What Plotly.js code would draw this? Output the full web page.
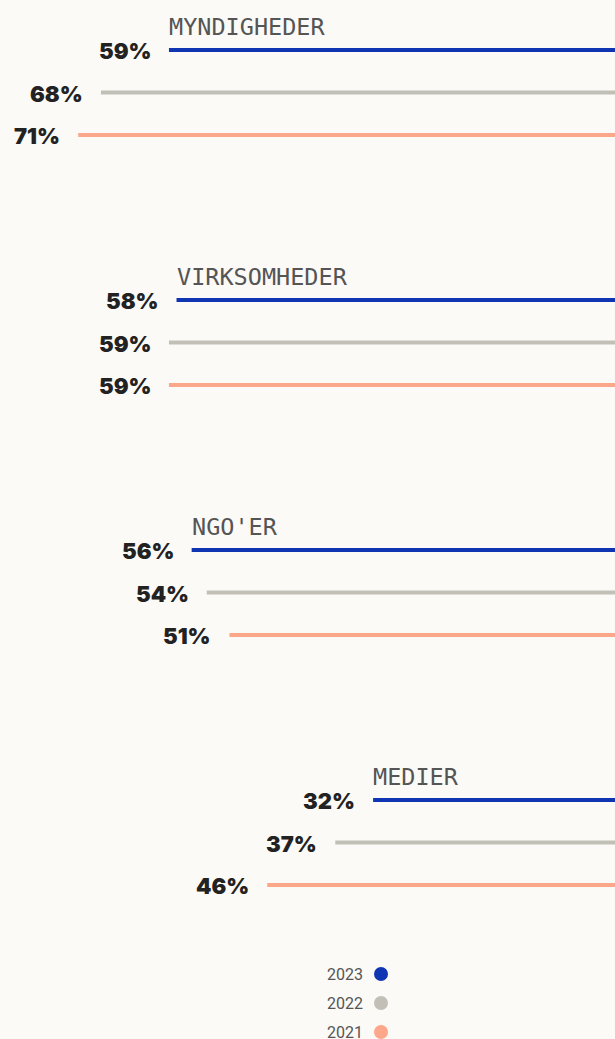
<!DOCTYPE html>
<html>
<head>
<meta charset="utf-8">
<script src="https://cdn.plot.ly/plotly-3.0.1.min.js"></script>
<style>
  html, body { margin: 0; padding: 0; background: #fcfaf6; }
  #chart { width: 615px; height: 1039px; }
</style>
</head>
<body>
<div id="chart"></div>
<script>
// ---- data ----
const categories = ["MYNDIGHEDER", "VIRKSOMHEDER", "NGO'ER", "MEDIER"];
const years = ["2023", "2022", "2021"];
const values2023 = [59, 58, 56, 32];
const values2022 = [68, 59, 54, 37];
const values2021 = [71, 59, 51, 46];
const colors = ["#0f35b2", "#c2bfb7", "#fca68a"];

// ---- layout helpers ----
const seriesValues = [values2023, values2022, values2021];
const rowStep = 0.17;           // spacing between years inside a group (group spacing = 1)
const xMax = 615 / 7.56;        // scale so 1 % = 7.56 px

const traces = [];
const annotations = [];

seriesValues.forEach((vals, s) => {
  const xs = [], ys = [];
  vals.forEach((v, g) => {
    const y = g + s * rowStep;
    xs.push(v, 0, null);
    ys.push(y, y, null);
    annotations.push({
      x: v, y: y, xref: 'x', yref: 'y',
      text: v + '%', showarrow: false,
      xanchor: 'right', yanchor: 'middle',
      xshift: -16, yshift: -1,
      font: { family: 'Inter, "Liberation Sans", sans-serif', size: 22, weight: 900, color: '#222222' }
    });
  });
  traces.push({
    type: 'scatter', mode: 'lines', x: xs, y: ys,
    line: { color: colors[s], width: 4 },
    hoverinfo: 'skip', showlegend: false, name: years[s]
  });
});

categories.forEach((c, g) => {
  annotations.push({
    x: values2023[g], y: g, xref: 'x', yref: 'y',
    text: c, showarrow: false,
    xanchor: 'left', yanchor: 'middle',
    xshift: -2, yshift: 23,
    font: { family: '"DejaVu Sans Mono", "Liberation Mono", monospace', size: 23.5, color: '#555555' }
  });
});

// legend (text left, dot right)
const shapes = [];
years.forEach((yr, i) => {
  const py = 974 + i * 29;
  const yPaper = 1 - py / 1039;
  annotations.push({
    x: 365 / 615, y: yPaper, xref: 'paper', yref: 'paper',
    text: yr, showarrow: false, xanchor: 'right', yanchor: 'middle',
    font: { family: 'Roboto, sans-serif', size: 16, weight: 400, color: '#555555' }
  });
  shapes.push({
    type: 'circle', xref: 'paper', yref: 'paper',
    xsizemode: 'pixel', ysizemode: 'pixel',
    xanchor: 381 / 615, yanchor: yPaper,
    x0: -7, x1: 7, y0: -7, y1: 7,
    fillcolor: colors[i], line: { width: 0 }
  });
});

const layout = {
  width: 615, height: 1039,
  margin: { l: 0, r: 0, t: 0, b: 0 },
  paper_bgcolor: '#fcfaf6', plot_bgcolor: '#fcfaf6',
  showlegend: false,
  xaxis: { range: [xMax, 0], visible: false, fixedrange: true },
  yaxis: { range: [(1039 - 50) / 250, -50 / 250], visible: false, fixedrange: true },
  annotations: annotations,
  shapes: shapes
};

Plotly.newPlot('chart', traces, layout, { displayModeBar: false, staticPlot: true });
</script>
</body>
</html>
